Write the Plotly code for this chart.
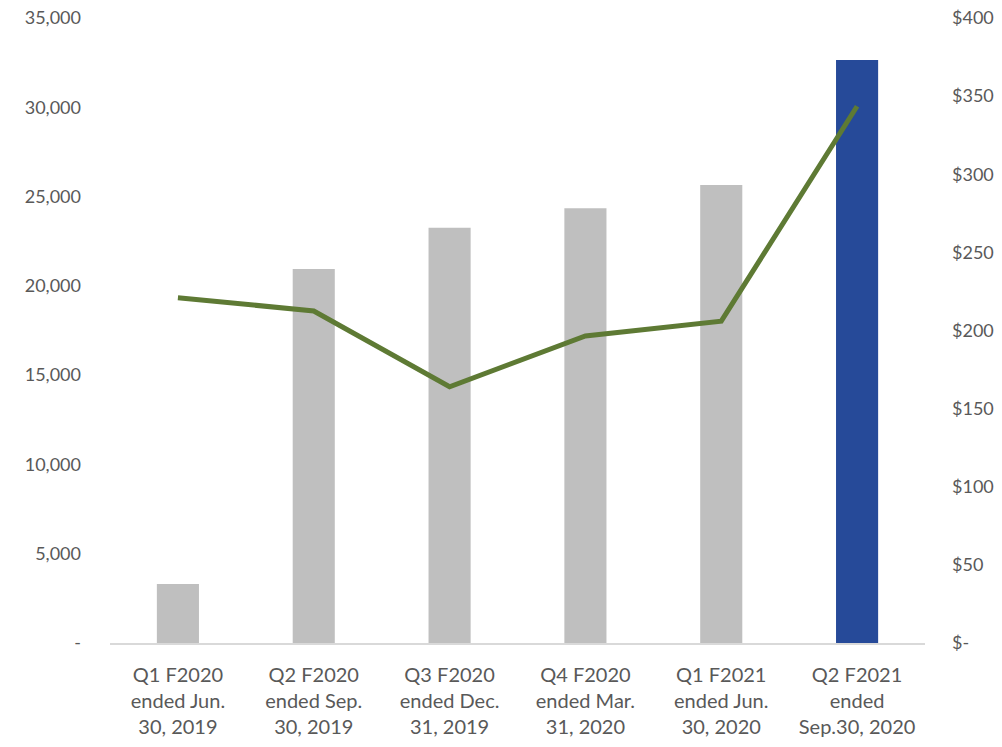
import plotly.graph_objects as go

categories = [
    "Q1 F2020<br>ended Jun.<br>30, 2019",
    "Q2 F2020<br>ended Sep.<br>30, 2019",
    "Q3 F2020<br>ended Dec.<br>31, 2019",
    "Q4 F2020<br>ended Mar.<br>31, 2020",
    "Q1 F2021<br>ended Jun.<br>30, 2020",
    "Q2 F2021<br>ended<br>Sep.30, 2020",
]
bar_values = [3300, 20950, 23250, 24350, 25650, 32650]
line_values = [221, 212.5, 164, 196.5, 206, 343.5]
bar_colors = ["#BFBFBF"] * 5 + ["#264A99"]

left_tickvals = [0, 5000, 10000, 15000, 20000, 25000, 30000, 35000]
left_ticktext = ["-", "5,000", "10,000", "15,000", "20,000", "25,000", "30,000", "35,000"]
right_tickvals = [0, 50, 100, 150, 200, 250, 300, 350, 400]
right_ticktext = ["$-", "$50", "$100", "$150", "$200", "$250", "$300", "$350", "$400"]

font_family = "Lato, Open Sans, sans-serif"
tick_color = "#595959"

fig = go.Figure()
fig.add_trace(go.Bar(
    x=categories, y=bar_values, marker=dict(color=bar_colors, line=dict(width=0)),
    yaxis="y", showlegend=False, hoverinfo="skip",
))
fig.add_trace(go.Scatter(
    x=categories, y=line_values, mode="lines",
    line=dict(color="#5E7A34", width=5), yaxis="y2", showlegend=False, hoverinfo="skip",
))

fig.update_layout(
    width=1002, height=747,
    margin=dict(l=110, r=77, t=18, b=104),
    paper_bgcolor="white", plot_bgcolor="white",
    bargap=0.69,
    font=dict(family=font_family, size=18, color=tick_color),
    xaxis=dict(
        showline=True, linecolor="#D9D9D9", linewidth=1.5,
        ticks="", showgrid=False, automargin=False,
        ticklabelstandoff=13, ticklabeloverflow="allow",
        tickfont=dict(size=20, color=tick_color),
    ),
    yaxis=dict(
        range=[0, 35000], tickvals=left_tickvals, ticktext=left_ticktext,
        showgrid=False, zeroline=False, showline=False, automargin=False,
        ticklabelstandoff=28, ticklabeloverflow="allow",
        tickfont=dict(size=18, color=tick_color),
    ),
    yaxis2=dict(
        range=[0, 400], tickvals=right_tickvals, ticktext=right_ticktext,
        overlaying="y", side="right", showgrid=False, zeroline=False, showline=False,
        automargin=False,
        ticklabelstandoff=26, ticklabeloverflow="allow",
        tickfont=dict(size=18, color=tick_color),
    ),
)

fig.write_html(
    "out.html",
    config={"displayModeBar": False},
    post_script="document.body.style.margin='0';document.body.style.overflow='hidden';",
)
